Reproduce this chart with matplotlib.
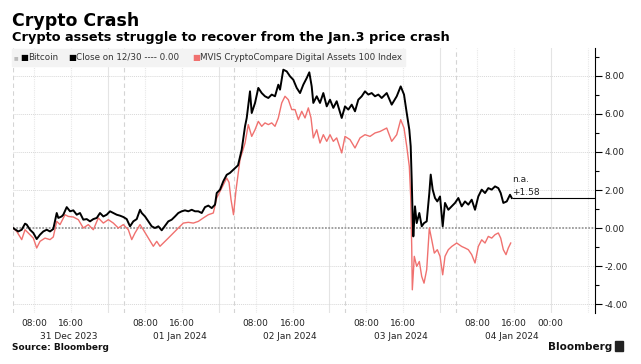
import numpy as np
import matplotlib
matplotlib.use("Agg")
import matplotlib.pyplot as plt
import matplotlib.dates as mdates
from matplotlib.ticker import MultipleLocator, FormatStrFormatter
from matplotlib.patches import Rectangle
from matplotlib.transforms import blended_transform_factory
from datetime import datetime

plt.rcParams['font.family'] = ['DejaVu Sans']
plt.rcParams['axes.unicode_minus'] = False

START = datetime(2023, 12, 31, 0, 0)

# hours after 31 Dec 2023 00:00 and % change since close on 12/30
btc_hours = [3.38, 4.53, 5.27, 5.99, 6.35, 7.07, 7.79, 8.52, 9.24, 9.95,
             10.69, 11.41, 12.12, 12.86, 13.21, 13.94, 14.29, 15.03, 15.75, 16.46,
             17.2, 17.91, 18.63, 19.37, 20.08, 20.8, 21.54, 22.25, 22.97, 23.7,
             24.42, 25.14, 25.87, 26.59, 27.3, 28.04, 28.76, 29.47, 30.21, 30.93,
             31.3, 32.01, 32.73, 33.46, 34.18, 34.9, 35.63, 36.35, 37.06, 37.8,
             38.52, 39.23, 39.97, 40.68, 41.4, 42.14, 42.85, 43.57, 44.31, 45.02,
             45.74, 46.48, 47.19, 47.56, 48.28, 48.99, 49.73, 50.44, 51.3, 52.18,
             52.98, 53.7, 54.07, 54.78, 55.15, 55.87, 56.58, 57.32, 58.03, 58.75,
             59.49, 60.2, 60.92, 61.29, 62.0, 62.74, 63.46, 64.17, 64.91, 65.63,
             66.34, 67.08, 67.64, 68.16, 68.51, 69.25, 69.96, 70.68, 71.42, 72.13,
             72.85, 73.58, 74.67, 75.38, 76.1, 76.84, 77.55, 78.27, 79.01, 79.72,
             80.44, 81.17, 81.89, 82.61, 83.34, 84.43, 85.51, 86.6, 87.46, 88.18,
             88.77, 89.33, 89.63, 89.85, 90.07, 90.2, 90.56, 90.93, 91.5, 92.02,
             92.52, 93.1, 93.67, 93.97, 94.4, 94.9, 95.4, 95.99, 96.57, 97.07,
             97.79, 98.53, 99.24, 99.96, 100.69, 101.41, 102.13, 102.86, 103.58, 104.29,
             105.03, 105.75, 106.46, 107.2, 107.92, 108.63, 109.15, 109.72, 110.46, 111.17,
             111.54]
btc_pct = [0.0, -0.18, -0.09, 0.23, 0.18, -0.09, -0.26, -0.58, -0.35, -0.18,
           -0.09, -0.18, -0.05, 0.79, 0.53, 0.61, 0.7, 1.1, 0.88, 0.93,
           0.7, 0.79, 0.44, 0.47, 0.35, 0.47, 0.53, 0.79, 0.61, 0.7,
           0.88, 0.79, 0.7, 0.65, 0.58, 0.47, 0.09, 0.35, 0.47, 0.96,
           0.79, 0.61, 0.35, 0.09, 0.0, 0.09, -0.12, 0.12, 0.35, 0.44,
           0.61, 0.79, 0.88, 0.93, 0.88, 0.96, 0.88, 0.88, 0.79, 1.1,
           1.18, 1.05, 1.23, 1.84, 2.02, 2.46, 2.8, 2.9, 3.1, 3.3,
           4.12, 5.35, 5.79, 7.19, 6.05, 6.58, 7.37, 7.1, 6.93, 6.84,
           7.02, 6.93, 7.54, 7.28, 8.33, 8.24, 7.98, 7.8, 7.37, 7.1,
           7.54, 7.89, 8.19, 7.45, 6.58, 6.93, 6.58, 7.1, 6.4, 6.75,
           6.32, 6.67, 5.79, 6.4, 6.23, 6.49, 6.14, 6.75, 6.93, 7.19,
           7.02, 7.1, 6.93, 7.02, 6.84, 7.1, 6.49, 6.93, 7.45, 7.02,
           6.05, 5.17, 4.3, 2.54, 0.44, -0.44, 1.14, 0.26, 0.79, 0.09,
           0.26, 0.35, 1.84, 2.81, 2.02, 1.58, 1.4, 1.66, 0.09, 1.32,
           0.96, 1.14, 1.32, 1.58, 1.14, 1.4, 1.23, 1.49, 0.96, 1.66,
           2.02, 1.84, 2.1, 2.02, 2.19, 2.1, 1.84, 1.32, 1.4, 1.75,
           1.58]

mvis_hours = [3.38, 4.19, 5.27, 5.99, 7.07, 7.79, 8.52, 9.24, 10.32, 11.41,
              12.12, 12.86, 13.58, 14.66, 15.38, 16.46, 17.55, 18.63, 19.71, 20.8,
              21.88, 22.97, 24.05, 25.14, 26.22, 27.3, 28.39, 29.13, 29.84, 30.93,
              31.64, 32.73, 33.81, 34.55, 35.26, 35.98, 37.06, 38.15, 39.23, 40.32,
              41.4, 42.49, 43.57, 44.66, 45.74, 46.82, 47.56, 48.64, 49.73, 50.23,
              50.66, 51.2, 51.75, 52.61, 53.7, 54.41, 55.15, 55.87, 56.58, 57.32,
              58.03, 58.75, 59.49, 60.2, 60.92, 61.66, 62.37, 63.09, 63.83, 64.54,
              65.26, 66.0, 66.71, 67.43, 68.01, 68.51, 69.25, 69.96, 70.68, 71.42,
              72.13, 72.85, 73.58, 74.67, 75.38, 76.47, 77.55, 78.64, 79.72, 80.81,
              81.89, 82.98, 84.43, 85.51, 86.6, 87.46, 88.18, 88.77, 89.33, 89.63,
              89.85, 89.98, 90.41, 90.93, 91.5, 92.02, 92.52, 93.1, 93.67, 94.19,
              94.75, 95.4, 95.99, 96.57, 97.07, 97.79, 98.53, 99.61, 100.69, 101.41,
              102.13, 102.86, 103.58, 104.29, 105.03, 105.75, 106.46, 107.2, 107.92, 108.63,
              109.15, 109.72, 110.3, 110.8, 111.32]
mvis_pct = [0.0, -0.18, -0.61, -0.09, -0.35, -0.53, -1.05, -0.7, -0.53, -0.61,
            -0.47, 0.35, 0.18, 0.7, 0.61, 0.58, 0.44, 0.0, 0.18, -0.09,
            0.53, 0.26, 0.44, 0.26, 0.0, 0.18, -0.09, -0.61, -0.26, 0.18,
            -0.09, -0.53, -0.96, -0.7, -0.96, -0.79, -0.53, -0.26, 0.0, 0.26,
            0.3, 0.26, 0.35, 0.53, 0.7, 0.79, 1.58, 2.1, 2.63, 2.4,
            1.5, 0.7, 2.0, 3.6, 4.47, 5.44, 4.82, 5.17, 5.61, 5.35,
            5.53, 5.44, 5.53, 5.35, 5.79, 6.58, 6.93, 6.75, 6.23, 6.23,
            5.7, 6.14, 5.79, 6.32, 5.79, 4.74, 5.17, 4.47, 4.91, 4.56,
            4.91, 4.56, 4.74, 3.95, 4.82, 4.65, 4.21, 4.74, 4.91, 4.82,
            5.0, 5.08, 5.26, 4.56, 4.91, 5.7, 5.26, 4.3, 3.24, 1.66,
            -0.97, -3.25, -1.49, -2.02, -1.76, -2.55, -2.9, -2.19, 0.0, -0.62,
            -1.32, -1.14, -1.49, -2.46, -1.49, -1.14, -0.97, -0.79, -0.97, -1.05,
            -1.14, -1.4, -1.84, -0.97, -0.62, -0.79, -0.44, -0.53, -0.35, -0.26,
            -0.53, -1.14, -1.4, -1.05, -0.79]

last_btc = 1.58
close_1230 = 0.00

tick_hours = [8, 16, 32, 40, 56, 64, 80, 88, 104, 112, 120]
tick_labels = ['08:00', '16:00', '08:00', '16:00', '08:00', '16:00',
               '08:00', '16:00', '08:00', '16:00', '00:00']
day_labels = ['31 Dec 2023', '01 Jan 2024', '02 Jan 2024', '03 Jan 2024', '04 Jan 2024']

RED = '#f0716f'
W, H = 641, 364

base = mdates.date2num(START)
def tx(hours):
    return base + np.asarray(hours, dtype=float) / 24.0

fig = plt.figure(figsize=(W / 100, H / 100), dpi=100)
ax = fig.add_axes([13 / W, 1 - 313 / H, (595 - 13) / W, (313 - 48) / H])

# grid
for h in range(8, 129, 8):
    if h % 24 == 0:
        ax.axvline(tx(h), color='#e4e4e4', lw=0.8, zorder=1)
    else:
        ax.axvline(tx(h), color='#e8e8e8', lw=0.8, ls=(0, (1, 1)), zorder=1)
for d in range(5):
    ax.axvline(tx(3.38 + 24 * d), color='#d4d4d4', lw=0.8, ls=(0, (4, 3)), zorder=1)
for v in [-4, -2, 2, 4, 6, 8]:
    ax.axhline(v, color='#d8d8d8', lw=0.7, ls=(0, (1, 1)), zorder=1)
ax.axhline(close_1230, color='#9a9a9a', lw=1.3, ls=(0, (1, 0.8)), zorder=2)

ax.plot(tx(mvis_hours), mvis_pct, color=RED, lw=1.0, zorder=3)
ax.plot(tx(btc_hours), btc_pct, color='black', lw=1.4, zorder=4)

# last value marker line
t_end = tx(btc_hours[-1])
x_right = tx(129.6)
ax.hlines(last_btc, t_end, x_right, color='black', lw=0.8, zorder=4)
ax.annotate(f'+{last_btc:.2f}', xy=(t_end, last_btc), xytext=(0, 1),
            textcoords='offset points', ha='left', va='bottom', fontsize=6.5, color='#222')
ax.annotate('n.a.', xy=(t_end, last_btc), xytext=(0, 10),
            textcoords='offset points', ha='left', va='bottom', fontsize=6.5, color='#222')

ax.set_xlim(tx(3.38), x_right)
ax.set_ylim(-4.47, 9.47)

ax.yaxis.tick_right()
ax.set_yticks(range(-4, 9, 2))
ax.yaxis.set_minor_locator(MultipleLocator(1))
ax.yaxis.set_major_formatter(FormatStrFormatter('%.2f'))
ax.tick_params(axis='y', which='major', length=5, width=0.8, pad=2,
               labelsize=6.5, labelcolor='#222', direction='out')
ax.tick_params(axis='y', which='minor', length=3, width=0.8, direction='out')

ax.set_xticks(tx(tick_hours))
ax.set_xticklabels(tick_labels)
ax.tick_params(axis='x', length=0, pad=4, labelsize=6.5, labelcolor='#222')

trans = blended_transform_factory(ax.transData, ax.transAxes)
for i, lab in enumerate(day_labels):
    ax.annotate(lab, xy=(tx(15.5 + 24 * i), 0), xycoords=trans, xytext=(0, -17),
                textcoords='offset points', ha='center', va='center',
                fontsize=6.5, color='#222')

for s in ['top', 'left', 'bottom']:
    ax.spines[s].set_visible(False)
ax.spines['right'].set_linewidth(0.8)

# legend strip
fig.patches.append(Rectangle((12 / W, 1 - 66 / H), 393 / W, 17 / H,
                             transform=fig.transFigure, color='#f3f3f3', zorder=2))
ly = 1 - 57.5 / H
fig.text(14 / W, ly, '■', fontsize=3.5, color='#bbbbbb', va='center', zorder=3)
fig.text(20 / W, ly, '■', fontsize=6, color='black', va='center', zorder=3)
fig.text(28 / W, ly, 'Bitcoin', fontsize=6.3, color='#333', va='center', zorder=3)
fig.text(68 / W, ly, '■', fontsize=6, color='black', va='center', zorder=3)
fig.text(76 / W, ly, f'Close on 12/30 ---- {close_1230:.2f}', fontsize=6.3, color='#333',
         va='center', zorder=3)
fig.text(192 / W, ly, '■', fontsize=6, color=RED, va='center', zorder=3)
fig.text(200 / W, ly, 'MVIS CryptoCompare Digital Assets 100 Index', fontsize=6.3,
         color='#333', va='center', zorder=3)

# titles
fig.text(12 / W, 1 - 26 / H, 'Crypto Crash', fontsize=12.5, fontweight='bold',
         color='black', va='baseline')
fig.text(12 / W, 1 - 41 / H, 'Crypto assets struggle to recover from the Jan.3 price crash',
         fontsize=9.3, fontweight='bold', color='black', va='baseline')

# footer
fig.text(12 / W, 1 - 350 / H, 'Source: Bloomberg', fontsize=6.5, fontweight='bold',
         color='#111', va='baseline')
fig.text(612 / W, 1 - 350 / H, 'Bloomberg', fontsize=7.5, fontweight='bold',
         color='#111', va='baseline', ha='right')
fig.patches.append(Rectangle((615 / W, 1 - 351 / H), 8 / W, 10 / H,
                             transform=fig.transFigure, color='#222', zorder=2))

fig.savefig('out.png', dpi=100, facecolor='white')
